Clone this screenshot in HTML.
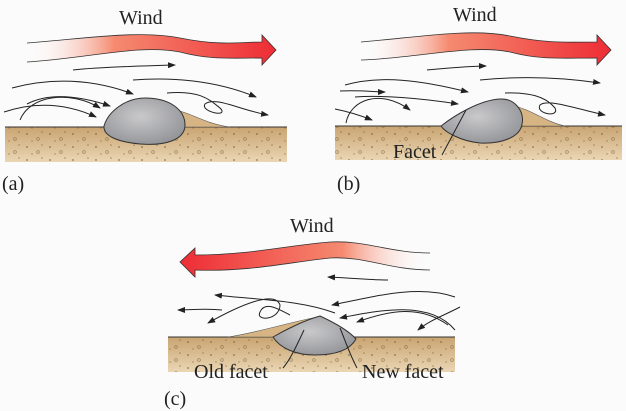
<!DOCTYPE html>
<html><head><meta charset="utf-8"><style>
html,body{margin:0;padding:0;background:#fbfbfb;}
svg{display:block;}
text{font-family:"Liberation Serif",serif;fill:#222;}
</style></head><body>
<svg width="626" height="411" viewBox="0 0 626 411" xmlns="http://www.w3.org/2000/svg">
<defs>
<linearGradient id="gR" x1="0" x2="1"><stop offset="0" stop-color="#fff" stop-opacity="0"/><stop offset="0.35" stop-color="#f58a70"/><stop offset="1" stop-color="#ee2c35"/></linearGradient>
<linearGradient id="gL" x1="1" x2="0"><stop offset="0" stop-color="#fff" stop-opacity="0"/><stop offset="0.35" stop-color="#f58a70"/><stop offset="1" stop-color="#ee2c35"/></linearGradient>
<linearGradient id="sand" x1="0" y1="0" x2="0" y2="1"><stop offset="0" stop-color="#c9a472"/><stop offset="1" stop-color="#ead6b4"/></linearGradient>
<radialGradient id="rock" cx="0.45" cy="0.4" r="0.7"><stop offset="0" stop-color="#c9c9cb"/><stop offset="1" stop-color="#8e8f93"/></radialGradient>
<marker id="ah" markerWidth="8" markerHeight="6" refX="7" refY="3" orient="auto" markerUnits="userSpaceOnUse"><path d="M0,0 L8,3 L0,6 Z" fill="#222"/></marker>
<pattern id="dots" width="23" height="13" patternUnits="userSpaceOnUse"><circle cx="4" cy="4" r="1" fill="#7a5a30"/><circle cx="15" cy="9" r="1.4" fill="none" stroke="#7a5a30" stroke-width="0.7"/><circle cx="19" cy="2" r="0.8" fill="#7a5a30"/><circle cx="9" cy="11" r="0.7" fill="#7a5a30"/></pattern>
</defs>

<!-- Panel a -->
<text x="119" y="24" font-size="20">Wind</text>
<path d="M27,43 C90,38 140,30 180,38 C220,46 240,42 262,42 L262,35 L276,50 L262,65 L262,58 C230,58 210,60 180,52 C140,44 90,58 27,62 Z" fill="url(#gR)"/>
<path d="M27,43 C90,38 140,30 180,38 C220,46 240,42 262,42 L262,35 L276,50 L262,65 L262,58 C230,58 210,60 180,52 C140,44 90,58 27,62" fill="none" stroke="#333" stroke-width="0.8"/>
<rect x="5" y="127" width="282" height="35" fill="url(#sand)"/>
<rect x="5" y="127" width="282" height="35" fill="url(#dots)" opacity="0.6"/>
<line x1="5" y1="127" x2="287" y2="127" stroke="#333" stroke-width="1"/>
<path d="M175,110 C190,112 205,124 230,127 L182,127 Z" fill="#d7b483" stroke="#555" stroke-width="0.6"/>
<path d="M104,126 C108,112 125,98 145,98 C170,98 185,110 185,125 C185,140 165,146 140,144 C118,142 103,136 104,126 Z" fill="url(#rock)" stroke="#333" stroke-width="1"/>
<g fill="none" stroke="#222" stroke-width="1" marker-end="url(#ah)">
<path d="M73,70 C100,67 140,66 175,65"/>
<path d="M12,88 C50,78 90,78 133,94"/>
<path d="M133,80 C170,77 215,80 256,97"/>
<path d="M27,104 C50,92 80,96 110,106"/>
<path d="M4,112 C40,100 70,105 96,117"/>
<path d="M20,120 C30,95 70,90 100,108"/>
<path d="M167,93 C200,90 210,100 220,108 C230,118 200,112 205,104 C215,96 240,110 268,115"/>
</g>
<text x="2" y="190" font-size="20">(a)</text>

<!-- Panel b -->
<text x="453" y="21" font-size="20">Wind</text>
<path d="M361,42 C420,37 470,28 510,36 C550,44 570,42 597,42 L597,35 L611,50 L597,65 L597,58 C560,58 540,60 510,52 C470,44 420,58 361,60 Z" fill="url(#gR)"/>
<path d="M361,42 C420,37 470,28 510,36 C550,44 570,42 597,42 L597,35 L611,50 L597,65 L597,58 C560,58 540,60 510,52 C470,44 420,58 361,60" fill="none" stroke="#333" stroke-width="0.8"/>
<rect x="335" y="126" width="287" height="34" fill="url(#sand)"/>
<rect x="335" y="126" width="287" height="34" fill="url(#dots)" opacity="0.6"/>
<line x1="335" y1="126" x2="622" y2="126" stroke="#333" stroke-width="1"/>
<path d="M512,106 C530,108 545,122 565,126 L520,126 Z" fill="#d7b483" stroke="#555" stroke-width="0.6"/>
<path d="M441,126 C455,115 480,100 500,99 C515,98 525,112 522,124 C520,138 500,144 480,143 C460,141 445,132 441,126 Z" fill="url(#rock)" stroke="#333" stroke-width="1"/>
<path d="M466,110 C458,125 450,140 442,155" fill="none" stroke="#222" stroke-width="1"/>
<g fill="none" stroke="#222" stroke-width="1" marker-end="url(#ah)">
<path d="M427,70 C450,68 470,66 486,66"/>
<path d="M345,85 C380,75 420,80 468,92"/>
<path d="M480,80 C520,76 560,77 600,83"/>
<path d="M340,91 C360,90 375,92 385,92"/>
<path d="M355,97 C380,95 420,98 458,104"/>
<path d="M335,109 C350,112 362,116 372,120"/>
<path d="M346,123 C350,100 380,88 410,110"/>
<path d="M505,93 C540,92 550,102 555,108 C560,118 535,114 540,105 C548,98 580,110 605,115"/>
</g>
<text x="393" y="158" font-size="20">Facet</text>
<text x="337" y="190" font-size="20">(b)</text>

<!-- Panel c -->
<text x="290" y="232" font-size="20">Wind</text>
<path d="M430,253 C390,253 365,240 330,242 C290,245 250,255 195,255 L195,248 L180,262 L195,277 L195,270 C250,272 290,262 330,258 C365,256 390,270 430,270 Z" fill="url(#gL)"/>
<path d="M430,253 C390,253 365,240 330,242 C290,245 250,255 195,255 L195,248 L180,262 L195,277 L195,270 C250,272 290,262 330,258 C365,256 390,270 430,270" fill="none" stroke="#333" stroke-width="0.8"/>
<rect x="168" y="337" width="287" height="35" fill="url(#sand)"/>
<rect x="168" y="337" width="287" height="35" fill="url(#dots)" opacity="0.6"/>
<line x1="168" y1="337" x2="455" y2="337" stroke="#333" stroke-width="1"/>
<path d="M318,317 C290,322 260,332 228,337 L290,337 Z" fill="#d7b483" stroke="#555" stroke-width="0.6"/>
<path d="M273,337 C285,330 305,320 320,316 C333,322 348,330 356,339 C350,350 335,355 315,355 C295,355 280,348 273,337 Z" fill="url(#rock)" stroke="#333" stroke-width="1"/>
<path d="M304,330 C297,345 290,360 283,368" fill="none" stroke="#222" stroke-width="1"/>
<path d="M340,328 C345,340 350,355 357,368" fill="none" stroke="#222" stroke-width="1"/>
<g fill="none" stroke="#222" stroke-width="1" marker-end="url(#ah)">
<path d="M388,280 C370,280 350,278 328,277"/>
<path d="M335,313 C300,300 260,300 215,295"/>
<path d="M222,310 C205,308 190,310 178,310"/>
<path d="M455,297 C420,285 380,295 332,305"/>
<path d="M455,330 C430,300 380,310 340,318"/>
<path d="M448,325 C420,305 390,310 357,322"/>
<path d="M290,315 C280,310 265,300 260,312 C255,322 280,320 280,305 C275,290 240,305 208,323"/>
<path d="M460,307 C445,315 430,320 418,330"/>
</g>
<text x="194" y="378" font-size="20">Old facet</text>
<text x="362" y="378" font-size="20">New facet</text>
<text x="164" y="405" font-size="20">(c)</text>
</svg>
</body></html>
